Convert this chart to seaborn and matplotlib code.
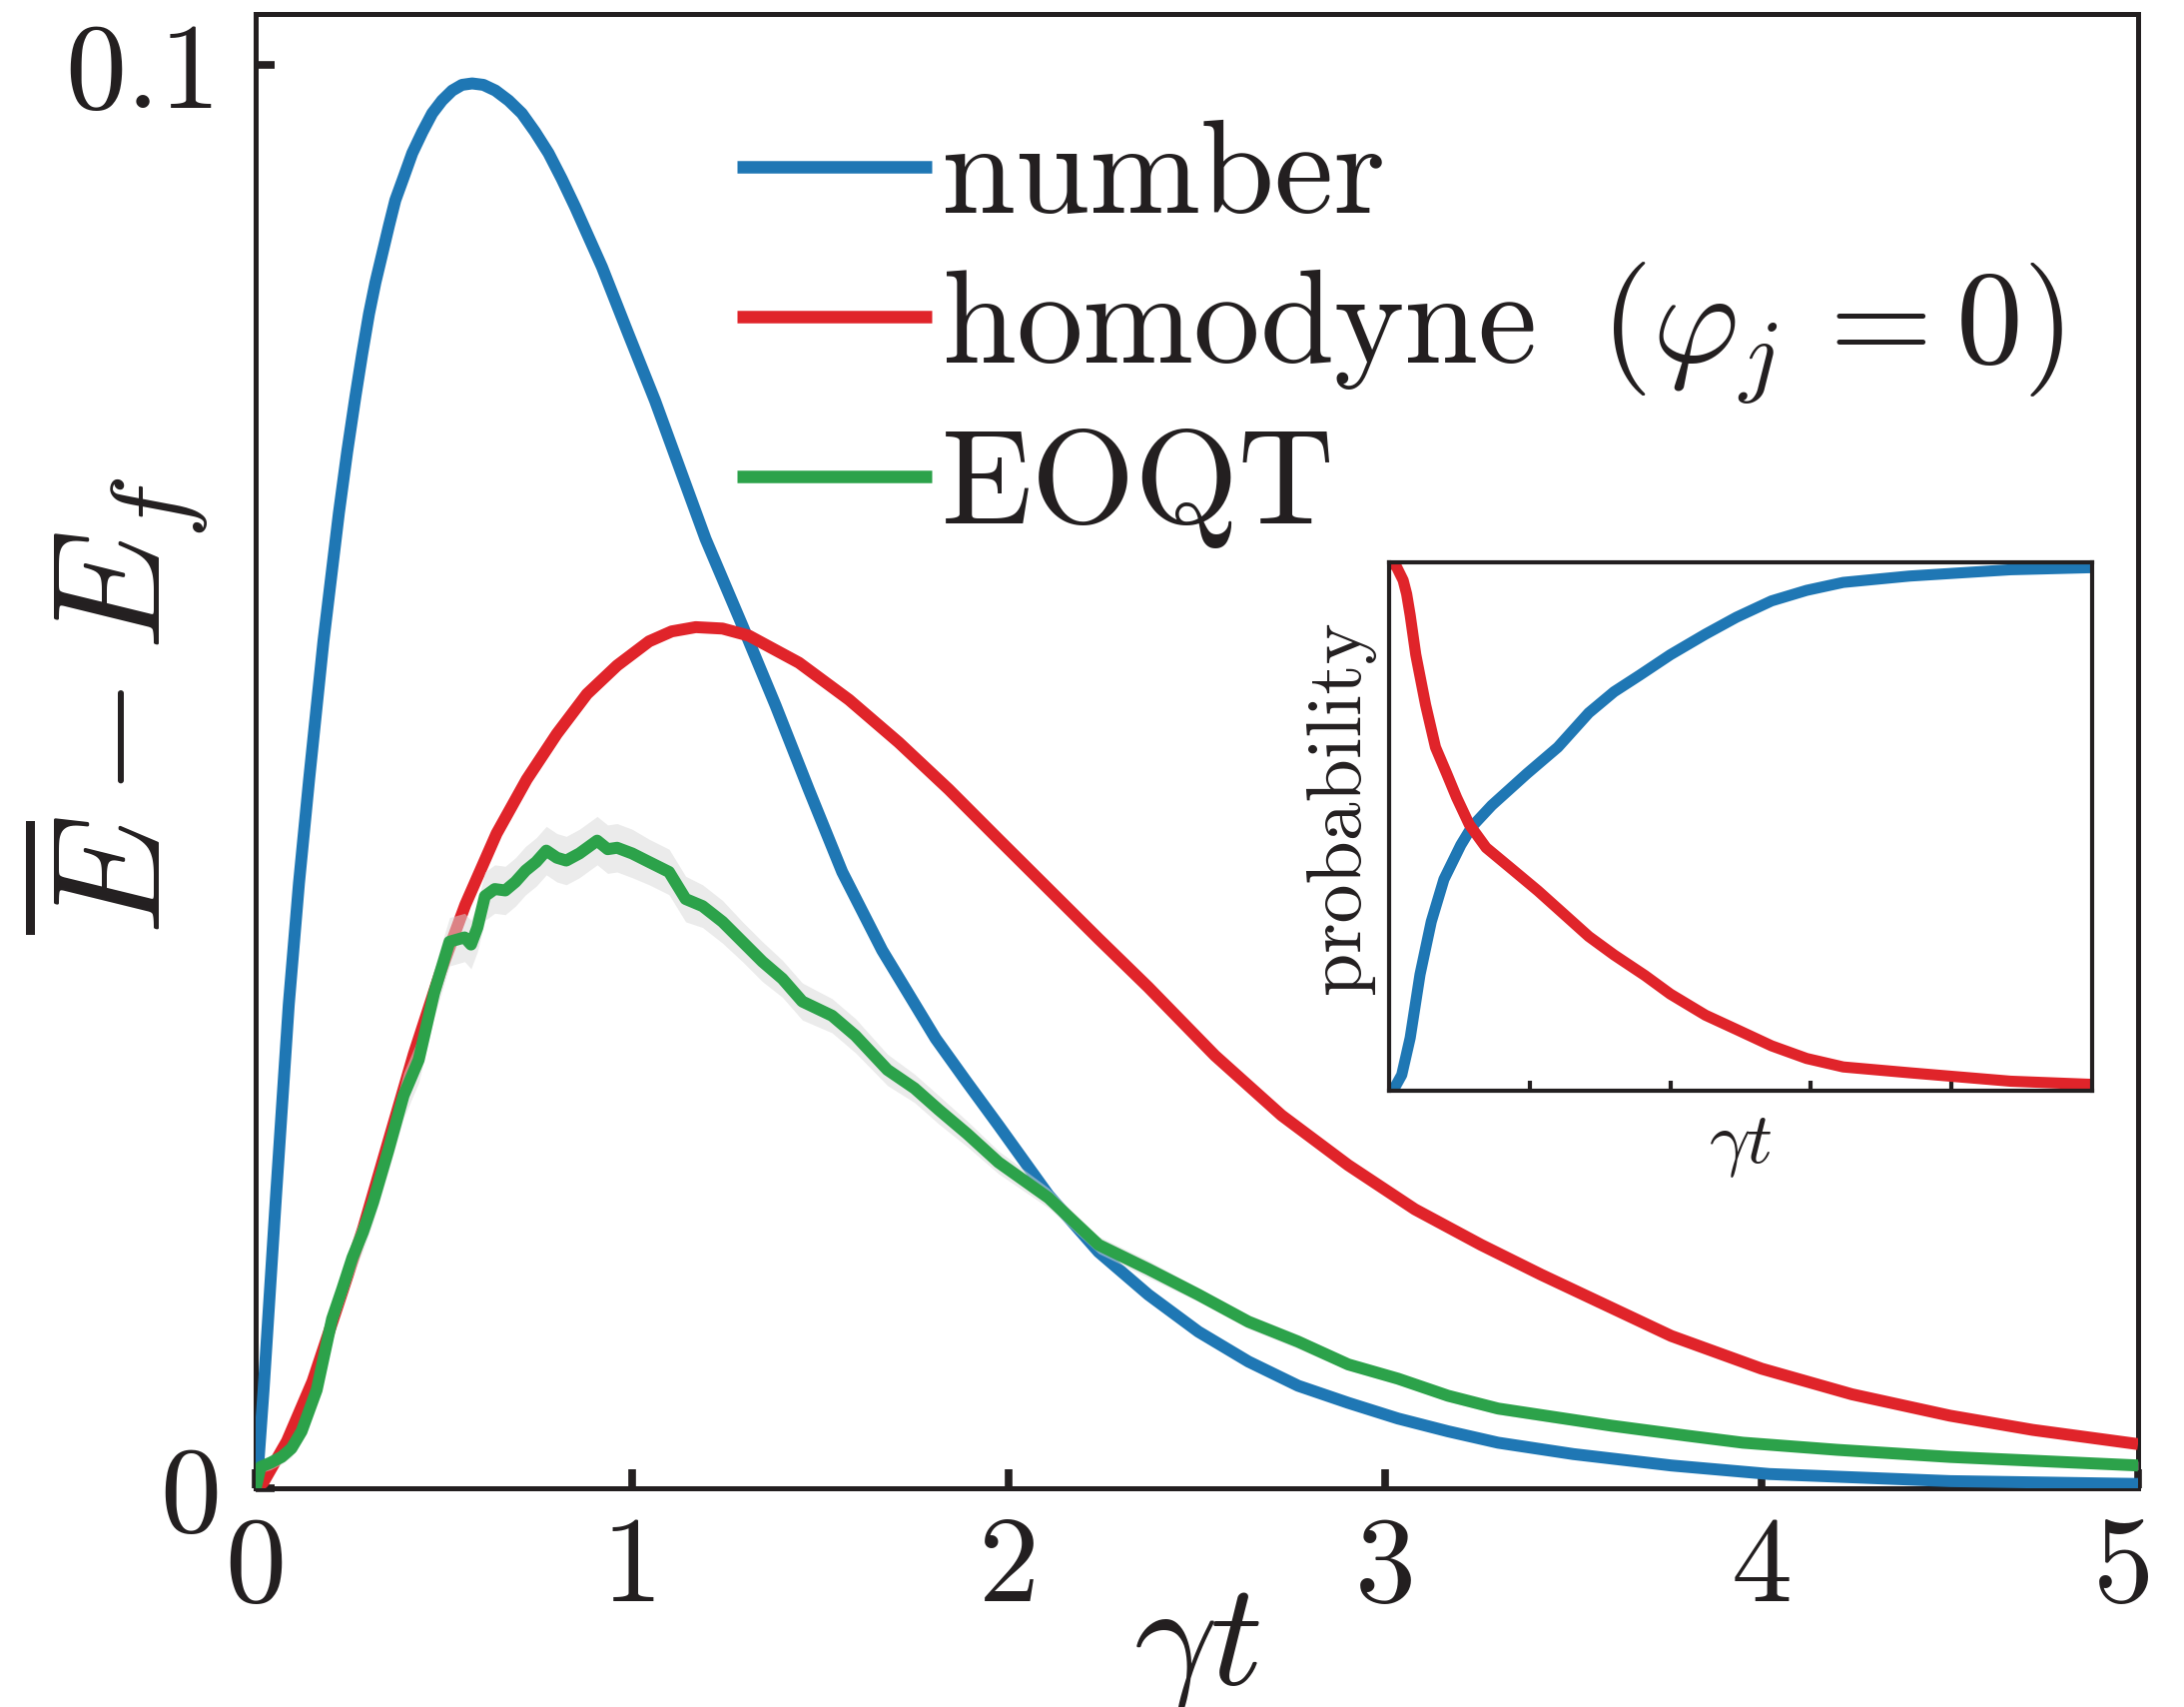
import numpy as np
import pandas as pd
import matplotlib
matplotlib.use("Agg")
import matplotlib.pyplot as plt
import matplotlib.transforms as mtransforms
import seaborn as sns

# ---------------- data ----------------
t_number = [0.000, 0.004, 0.021, 0.054, 0.088, 0.115, 0.142, 0.180, 0.221, 0.243,
            0.265, 0.283, 0.301, 0.318, 0.336, 0.354, 0.371, 0.393, 0.416, 0.443,
            0.469, 0.495, 0.522, 0.548, 0.575, 0.605, 0.637, 0.672, 0.707, 0.742,
            0.778, 0.813, 0.849, 0.920, 0.990, 1.061, 1.130, 1.195, 1.293, 1.381,
            1.469, 1.558, 1.664, 1.806, 1.890, 1.973, 2.106, 2.239, 2.371, 2.504,
            2.637, 2.769, 2.902, 3.034, 3.167, 3.300, 3.500, 3.760, 4.020, 4.500,
            5.000]
v_number = [0.0000, 0.0006, 0.0069, 0.0205, 0.0340, 0.0425, 0.0498, 0.0595, 0.0685, 0.0728,
            0.0767, 0.0797, 0.0825, 0.0847, 0.0867, 0.0887, 0.0905, 0.0921, 0.0938, 0.0953,
            0.0966, 0.0975, 0.0982, 0.0986, 0.0987, 0.0986, 0.0982, 0.0975, 0.0966, 0.0953,
            0.0938, 0.0920, 0.0900, 0.0858, 0.0811, 0.0764, 0.0714, 0.0667, 0.0606, 0.0550,
            0.0491, 0.0433, 0.0378, 0.0316, 0.0285, 0.0255, 0.0206, 0.0166, 0.0136, 0.0110,
            0.0089, 0.0072, 0.0060, 0.0049, 0.0040, 0.0032, 0.0024, 0.0016, 0.0010, 0.0005,
            0.0003]

t_homodyne = [0.000, 0.020, 0.083, 0.151, 0.219, 0.286, 0.354, 0.420, 0.490, 0.557,
              0.640, 0.720, 0.800, 0.880, 0.960, 1.045, 1.105, 1.169, 1.240, 1.310,
              1.443, 1.576, 1.708, 1.841, 1.973, 2.106, 2.239, 2.371, 2.548, 2.725,
              2.902, 3.079, 3.255, 3.415, 3.760, 4.000, 4.240, 4.500, 4.720, 5.000]
v_homodyne = [0.0000, 0.0004, 0.0033, 0.0075, 0.0129, 0.0183, 0.0245, 0.0305, 0.0362, 0.0410,
              0.0460, 0.0498, 0.0530, 0.0558, 0.0578, 0.0595, 0.0602, 0.0605, 0.0604, 0.0599,
              0.0580, 0.0554, 0.0524, 0.0491, 0.0456, 0.0421, 0.0386, 0.0352, 0.0304, 0.0262,
              0.0227, 0.0196, 0.0171, 0.0150, 0.0107, 0.0084, 0.0066, 0.0051, 0.0041, 0.0031]

t_eoqt = [0.000, 0.013, 0.040, 0.069, 0.095, 0.122, 0.162, 0.203, 0.230, 0.257,
          0.285, 0.312, 0.352, 0.393, 0.433, 0.474, 0.515, 0.555, 0.572, 0.589,
          0.609, 0.635, 0.663, 0.690, 0.717, 0.745, 0.772, 0.800, 0.825, 0.860,
          0.907, 0.935, 0.960, 1.000, 1.045, 1.098, 1.142, 1.187, 1.240, 1.293,
          1.346, 1.399, 1.452, 1.531, 1.593, 1.678, 1.750, 1.814, 1.890, 1.973,
          2.106, 2.239, 2.371, 2.504, 2.637, 2.769, 2.902, 3.034, 3.167, 3.300,
          3.450, 3.600, 3.800, 3.950, 4.200, 4.500, 4.750, 5.000]
v_eoqt = [0.0000, 0.0015, 0.0018, 0.0022, 0.0028, 0.0040, 0.0069, 0.0119, 0.0140, 0.0162,
          0.0180, 0.0201, 0.0237, 0.0276, 0.0301, 0.0348, 0.0384, 0.0387, 0.0382, 0.0394,
          0.0416, 0.0421, 0.0420, 0.0426, 0.0434, 0.0440, 0.0448, 0.0443, 0.0441, 0.0446,
          0.0455, 0.0449, 0.0450, 0.0446, 0.0440, 0.0433, 0.0414, 0.0409, 0.0398, 0.0384,
          0.0370, 0.0358, 0.0342, 0.0332, 0.0318, 0.0294, 0.0281, 0.0266, 0.0249, 0.0229,
          0.0204, 0.0171, 0.0154, 0.0136, 0.0117, 0.0103, 0.0087, 0.0077, 0.0065, 0.0056,
          0.0050, 0.0044, 0.0037, 0.0032, 0.0027, 0.0022, 0.0019, 0.0016]
err_eoqt = [0.0000, 0.0004, 0.0005, 0.0005, 0.0006, 0.0007, 0.0009, 0.0011, 0.0012, 0.0013,
            0.0013, 0.0014, 0.0015, 0.0016, 0.0016, 0.0017, 0.0017, 0.0017, 0.0017, 0.0017,
            0.0017, 0.0017, 0.0017, 0.0017, 0.0017, 0.0017, 0.0017, 0.0017, 0.0017, 0.0017,
            0.0017, 0.0017, 0.0017, 0.0017, 0.0016, 0.0016, 0.0016, 0.0015, 0.0015, 0.0014,
            0.0014, 0.0013, 0.0013, 0.0012, 0.0012, 0.0011, 0.0010, 0.0010, 0.0009, 0.0008,
            0.0007, 0.0006, 0.0006, 0.0005, 0.0005, 0.0005, 0.0004, 0.0004, 0.0004, 0.0004,
            0.0004, 0.0003, 0.0003, 0.0003, 0.0003, 0.0003, 0.0003, 0.0003]

# inset: probabilities
t_inset_blue = [0.00, 0.04, 0.09, 0.15, 0.185, 0.22, 0.30, 0.39, 0.51, 0.59, 0.73, 0.98, 1.20,
                1.42, 1.60, 1.78, 2.00, 2.25, 2.47, 2.72, 2.97, 3.23, 3.70, 4.06, 4.42, 5.00]
p_inset_blue = [0.000, 0.006, 0.030, 0.100, 0.160, 0.220, 0.320, 0.400, 0.465, 0.500, 0.540, 0.600, 0.650,
                0.715, 0.755, 0.786, 0.825, 0.864, 0.896, 0.927, 0.947, 0.962, 0.974, 0.980, 0.986, 0.990]
t_inset_red = [0.00, 0.05, 0.10, 0.125, 0.15, 0.19, 0.26, 0.33, 0.41, 0.48, 0.57, 0.69, 0.88, 1.06,
               1.24, 1.42, 1.60, 1.82, 2.00, 2.25, 2.47, 2.72, 2.97, 3.23, 3.70, 4.06, 4.42, 5.00]
p_inset_red = [1.000, 0.993, 0.966, 0.940, 0.900, 0.825, 0.730, 0.650, 0.600, 0.555, 0.504, 0.460, 0.418,
               0.378, 0.335, 0.292, 0.257, 0.218, 0.183, 0.143, 0.116, 0.085, 0.061, 0.045, 0.034, 0.026,
               0.018, 0.012]

labels = ["number", r"homodyne $\,(\varphi_j\,=0)$", "EOQT"]
xticks_main = [0, 1, 2, 3, 4, 5]
xticklabels_main = ["0", "1", "2", "3", "4", "5"]
yticks_main = [0, 0.1]
yticklabels_main = ["0", "0.1"]

# ---------------- style ----------------
sns.set_theme(style="ticks")
INK = "#231f20"
plt.rcParams.update({
    "font.family": "serif",
    "font.serif": ["cmr10"],
    "mathtext.fontset": "cm",
    "axes.formatter.use_mathtext": True,
    "axes.unicode_minus": False,
    "text.color": INK,
    "axes.labelcolor": INK,
    "xtick.color": INK,
    "ytick.color": INK,
    "axes.edgecolor": INK,
    "lines.solid_joinstyle": "round",
    "lines.solid_capstyle": "butt",
})

BLUE = "#1f77b4"
RED = "#e0242a"
GREEN = "#2ca24a"

fig = plt.figure(figsize=(21.87, 17.09), dpi=100)
ax = fig.add_axes([0.11706, 0.12815, 0.86191, 0.86366])

df_n = pd.DataFrame({"t": t_number, "v": v_number})
df_h = pd.DataFrame({"t": t_homodyne, "v": v_homodyne})
df_e = pd.DataFrame({"t": t_eoqt, "v": v_eoqt, "err": err_eoqt})

LW = 8.6
sns.lineplot(data=df_n, x="t", y="v", ax=ax, color=BLUE, linewidth=LW, label=labels[0],
             estimator=None, sort=False, zorder=3)
sns.lineplot(data=df_h, x="t", y="v", ax=ax, color=RED, linewidth=LW, label=labels[1],
             estimator=None, sort=False, zorder=3)
ax.fill_between(df_e["t"], df_e["v"] - df_e["err"], df_e["v"] + df_e["err"],
                color="#d9d9d9", alpha=0.52, lw=0, zorder=4)
sns.lineplot(data=df_e, x="t", y="v", ax=ax, color=GREEN, linewidth=LW, label=labels[2],
             estimator=None, sort=False, zorder=5)

ax.set_xlim(0, 5)
ax.set_ylim(0, 0.10358)
ax.set_xticks(xticks_main)
ax.set_xticklabels(xticklabels_main)
ax.set_yticks(yticks_main)
ax.set_yticklabels(yticklabels_main)
ax.tick_params(axis="both", direction="in", length=14, width=5.5, labelsize=88,
               color=INK, labelcolor=INK)
ax.tick_params(axis="x", pad=20)
ax.tick_params(axis="y", pad=25)
for s in ax.spines.values():
    s.set_visible(True)
    s.set_linewidth(3.6)
    s.set_color(INK)

# last x tick label sits slightly left of the axis corner in the reference
last = ax.get_xticklabels()[-1]
last.set_transform(last.get_transform() + mtransforms.ScaledTranslation(-0.15, 0, fig.dpi_scale_trans))

ax.set_xlabel(r"$\gamma t$", fontsize=106)
ax.xaxis.set_label_coords(0.5, -0.066)
ax.set_ylabel(r"$\overline{E} - E_f$", fontsize=110)
ax.yaxis.set_label_coords(-0.024, 0.531)

handles, _ = ax.get_legend_handles_labels()
leg = ax.legend(handles, labels, loc="upper left",
                bbox_to_anchor=(738 / 2187, 1 - 120 / 1709),
                bbox_transform=fig.transFigure, frameon=False,
                fontsize=96, handlelength=1.46, handletextpad=0.08,
                labelspacing=0.165, borderpad=0, borderaxespad=0)
for line in leg.get_lines():
    line.set_linewidth(9.0)

# ---------------- inset ----------------
ax2 = fig.add_axes([0.63603, 0.36103, 0.32190, 0.30954])
df_ib = pd.DataFrame({"t": t_inset_blue, "p": p_inset_blue})
df_ir = pd.DataFrame({"t": t_inset_red, "p": p_inset_red})
sns.lineplot(data=df_ib, x="t", y="p", ax=ax2, color=BLUE, linewidth=8.0, estimator=None, sort=False)
sns.lineplot(data=df_ir, x="t", y="p", ax=ax2, color=RED, linewidth=8.0, estimator=None, sort=False)
ax2.set_xlim(0, 5)
ax2.set_ylim(0, 1)
ax2.set_xticks([1, 2, 3, 4])
ax2.set_xticklabels([])
ax2.set_yticks([])
ax2.tick_params(axis="x", direction="in", length=7, width=3, color=INK)
for s in ax2.spines.values():
    s.set_visible(True)
    s.set_linewidth(3.0)
    s.set_color(INK)
ax2.set_xlabel(r"$\gamma t$", fontsize=52)
ax2.xaxis.set_label_coords(0.5, -0.045)
ax2.set_ylabel("probability", fontsize=56)
ax2.yaxis.set_label_coords(-0.02, 0.537)

fig.savefig("out.png", dpi=100)
